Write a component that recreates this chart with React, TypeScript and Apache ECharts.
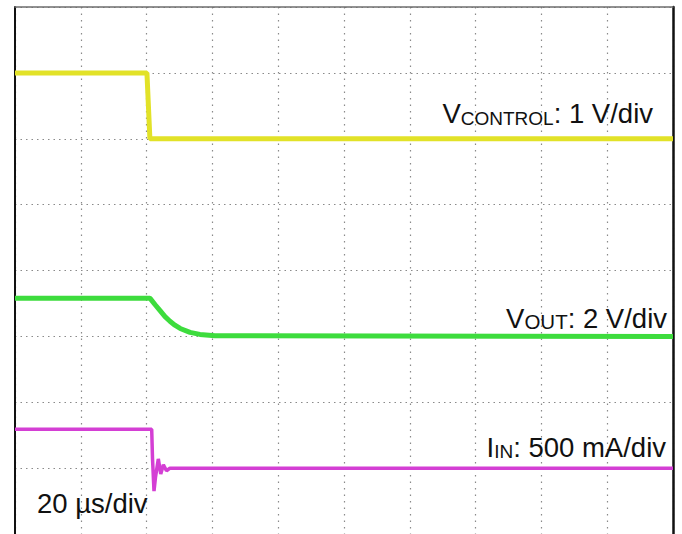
import React, { useEffect, useRef } from "react";
import * as echarts from "echarts";

// Time in µs (20 µs/div, 10 divisions), vertical position in divisions (0..8 from bottom)
const timeTicks = [0, 20, 40, 60, 80, 100, 120, 140, 160, 180, 200];
const divTicks = [0, 1, 2, 3, 4, 5, 6, 7, 8];

const vControl: [number, number][] = [
  [0, 7.0],
  [40.1, 7.0],
  [41.0, 6.0],
  [200, 6.0],
];

const vOut: [number, number][] = [
  [0, 3.58],
  [41.0, 3.58],
  [42.6, 3.48],
  [44.1, 3.39],
  [45.6, 3.3],
  [47.1, 3.23],
  [48.6, 3.17],
  [50.2, 3.12],
  [53.2, 3.06],
  [56.2, 3.03],
  [60.8, 3.01],
  [200, 3.0],
];

const iIn: [number, number][] = [
  [0, 1.59],
  [41.55, 1.59],
  [41.8, 1.14],
  [42.25, 0.65],
  [42.7, 0.86],
  [43.56, 1.14],
  [44.3, 0.91],
  [45.1, 1.05],
  [46.05, 0.96],
  [47.1, 1.0],
  [200, 1.0],
];

const labels = {
  vControl: { main: "V", sub: "CONTROL", rest: ": 1 V/div" },
  vOut: { main: "V", sub: "OUT", rest: ": 2 V/div" },
  iIn: { main: "I", sub: "IN", rest: ": 500 mA/div" },
  time: "20 µs/div",
};

const FONT = "'Liberation Sans', Arial, Helvetica, sans-serif";

function richLabel(
  lbl: { main: string; sub: string; rest: string },
  x: number,
  y: number,
  subSize: number
) {
  return {
    type: "text",
    x,
    y,
    z: 100,
    style: {
      text: `{m|${lbl.main}}{s|${lbl.sub}}{m|${lbl.rest}}`,
      align: "right",
      verticalAlign: "bottom",
      rich: {
        m: {
          fontSize: 27.5,
          lineHeight: 27.5,
          fontFamily: FONT,
          fill: "#111",
          verticalAlign: "bottom",
        },
        s: {
          fontSize: subSize,
          lineHeight: subSize,
          fontFamily: FONT,
          fill: "#111",
          verticalAlign: "bottom",
        },
      },
    },
  };
}

export default function App() {
  const ref = useRef<HTMLDivElement>(null);
  useEffect(() => {
    if (!ref.current) return;
    const chart = echarts.init(ref.current, undefined, { renderer: "svg" });
    const gridDotV = { color: "#8a8a8a", width: 1.2, type: [1.5, 5] as number[] };
    const gridDotH = { color: "#8a8a8a", width: 1.2, type: [1.5, 4] as number[] };
    chart.setOption({
      animation: false,
      backgroundColor: "#ffffff",
      grid: { left: 15, top: 7, width: 658, height: 528, containLabel: false },
      xAxis: {
        type: "value",
        position: "top",
        min: timeTicks[0],
        max: timeTicks[timeTicks.length - 1],
        interval: timeTicks[1] - timeTicks[0],
        axisLine: { show: true, onZero: false, lineStyle: { color: "#6e6e6e", width: 1.5 } },
        axisTick: { show: false },
        axisLabel: { show: false },
        splitLine: { show: true, lineStyle: gridDotV },
      },
      yAxis: [
        {
          type: "value",
          min: divTicks[0],
          max: divTicks[divTicks.length - 1],
          interval: divTicks[1] - divTicks[0],
          axisLine: { show: true, onZero: false, lineStyle: { color: "#111", width: 2 } },
          axisTick: { show: false },
          axisLabel: { show: false },
          splitLine: { show: true, lineStyle: gridDotH },
        },
        {
          type: "value",
          position: "right",
          min: divTicks[0],
          max: divTicks[divTicks.length - 1],
          interval: divTicks[1] - divTicks[0],
          axisLine: { show: true, onZero: false, lineStyle: { color: "#111", width: 2.5 } },
          axisTick: { show: false },
          axisLabel: { show: false },
          splitLine: { show: false },
        },
      ],
      series: [
        {
          type: "line",
          data: vControl,
          showSymbol: false,
          lineStyle: { color: "#e2e228", width: 5 },
          z: 5,
        },
        {
          type: "line",
          data: vOut,
          showSymbol: false,
          smooth: false,
          lineStyle: { color: "#3ddc3d", width: 5 },
          z: 5,
        },
        {
          type: "line",
          data: iIn,
          showSymbol: false,
          lineStyle: { color: "#d43fd4", width: 3.5 },
          z: 5,
        },
      ],
      graphic: [
        richLabel(labels.vControl, 653, 127.5, 19),
        richLabel(labels.vOut, 667, 332, 20.5),
        richLabel(labels.iIn, 666, 461, 19),
        {
          type: "text",
          x: 37,
          y: 517,
          z: 100,
          style: {
            text: labels.time,
            align: "left",
            verticalAlign: "bottom",
            fontSize: 27.5,
            fontFamily: FONT,
            fill: "#111",
          },
        },
      ],
    });
    return () => chart.dispose();
  }, []);
  return (
    <div
      ref={ref}
      style={{ position: "fixed", left: 0, top: 0, width: 682, height: 534, background: "#fff" }}
    />
  );
}
